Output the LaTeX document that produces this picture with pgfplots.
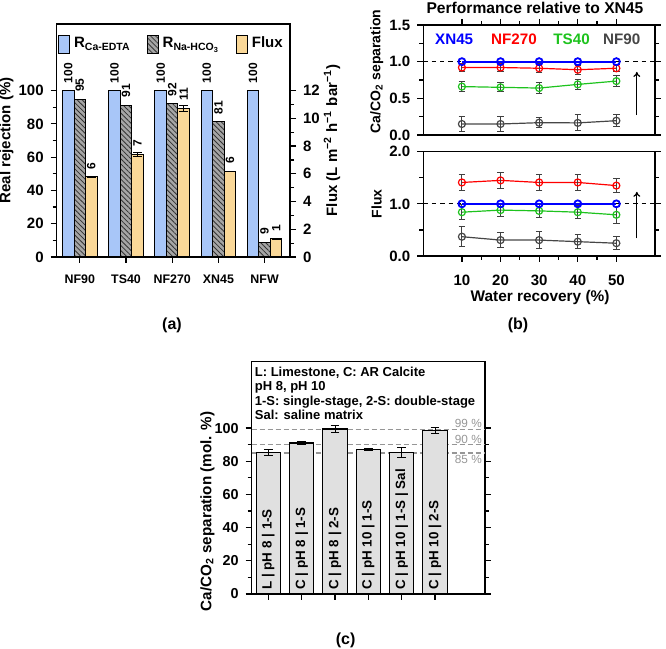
\documentclass[border=0pt]{standalone}
\usepackage{fontspec}
\setmainfont{Liberation Sans}
\usepackage{pgfplots}
\usepackage{pgfplotstable}
\pgfplotsset{compat=1.18}
\usetikzlibrary{patterns.meta,arrows.meta}

\definecolor{cblue}{RGB}{168,198,248}
\definecolor{cyel}{RGB}{250,216,152}
\definecolor{chatch}{RGB}{165,165,165}
\definecolor{cgreen}{RGB}{30,195,30}
\definecolor{cgray}{RGB}{70,70,70}
\definecolor{dgray}{RGB}{150,150,150}

\tikzset{barlab/.style={rotate=90, anchor=west, inner sep=0pt, font=\bfseries\fontsize{6.7}{7}\selectfont}}
\pgfplotsset{
  myax/.style={
    scale only axis,
    /pgf/number format/assume math mode=true,
    tick align=outside,
    axis line style={line width=0.75pt},
    every tick/.style={black, line width=0.6pt},
    major tick length=3pt, minor tick length=2pt,
    tick label style={font=\bfseries\fontsize{7.5}{8}\selectfont},
    label style={font=\bfseries\fontsize{7.5}{8}\selectfont},
  },
  errb/.style={
    /pgfplots/error bars/y dir=both,
    /pgfplots/error bars/y explicit,
    /pgfplots/error bars/error bar style={black!75, line width=0.5pt},
    /pgfplots/error bars/error mark options={black!75, line width=0.5pt, mark size=1.6pt, rotate=90},
  },
  ser/.style={color=#1, mark=o, mark size=1.75pt, line width=0.6pt, mark options={solid, fill=none}},
  vlab/.style={nodes near coords, point meta=explicit symbolic,
    every node near coord/.append style={rotate=90, anchor=west, font=\bfseries\fontsize{6}{6.5}\selectfont, inner xsep=3.5pt, inner ysep=0pt}},
}

\begin{document}
\begin{tikzpicture}
\path[use as bounding box] (0,0) rectangle (333pt,324.5pt);

% ---------------- Panel (a) left axis
\begin{axis}[myax,
  at={(28.35pt,196pt)}, anchor=south west, width=116.65pt, height=116.5pt,
  xmin=-0.5, xmax=4.55, ymin=0, ymax=140,
  xtick={0,1,2,3,4}, xticklabels={NF90,TS40,NF270,XN45,NFW},
  xtick pos=bottom, ytick pos=left,
  ytick={0,20,40,60,80,100}, minor ytick={10,30,50,70,90},
  xticklabel style={font=\bfseries\fontsize{6.2}{7}\selectfont, yshift=-2.5pt},
  ylabel={Real rejection (\%)},
  ylabel style={at={(axis description cs:-0.215,0.5)}, anchor=center},
  legend columns=3,
  legend style={draw=none, fill=none, at={(0.496,0.914)}, anchor=center,
    font=\bfseries\fontsize{7.5}{8}\selectfont,
    /tikz/every even column/.append style={column sep=6pt}},
  legend image code/.code={\draw[#1] (0pt,-4.5pt) rectangle (5.5pt,4.5pt);},
]
\addlegendimage{fill=cblue, draw=black, line width=0.5pt}
\addlegendentry{R\textsubscript{Ca-EDTA}}
\addlegendimage{fill=chatch, draw=black, line width=0.5pt, postaction={pattern={Lines[angle=-45,distance=1.8pt,line width=0.4pt]}, pattern color=black!80}}
\addlegendentry{R\textsubscript{Na-HCO\textsubscript{3}}}
\addlegendimage{fill=cyel, draw=black, line width=0.5pt}
\addlegendentry{Flux}

% Ca-EDTA rejection (bars at group position - 0.25)
\addplot[ybar, bar width=0.25, bar shift=0, fill=cblue, draw=black, line width=0.5pt, forget plot, vlab]
  table[x=x,y=y,meta=lab] {
x y lab
-0.25 100 100
0.75 100 100
1.75 100 100
2.75 100 100
3.75 100 100
};
% Na-HCO3 rejection (bars at group position)
\addplot[ybar, bar width=0.25, bar shift=0, fill=chatch, draw=black, line width=0.5pt, forget plot,
  postaction={pattern={Lines[angle=-45,distance=1.8pt,line width=0.4pt]}, pattern color=black!80}, vlab]
  table[x=x,y=y,meta=lab] {
x y lab
0 94.8 95
1 91.3 91
2 92.0 92
3 81.3 81
4 9.0 9
};
\end{axis}

% ---------------- Panel (a) right axis (flux)
\begin{axis}[myax,
  at={(28.35pt,196pt)}, anchor=south west, width=116.65pt, height=116.5pt,
  xmin=-0.5, xmax=4.55, ymin=0, ymax=16.8,
  hide x axis, axis line style={draw=none},
  ytick pos=right, yticklabel pos=right,
  ytick={0,2,4,6,8,10,12}, minor ytick={1,3,5,7,9,11},
  ylabel={Flux (L m\textsuperscript{−2} h\textsuperscript{−1} bar\textsuperscript{−1})},
  every axis y label/.style={at={(axis description cs:1.18,0.5)}, rotate=90, anchor=center, font=\bfseries\fontsize{7.5}{8}\selectfont},
]
\addplot[ybar, bar width=0.25, bar shift=0, fill=cyel, draw=black, line width=0.5pt, forget plot, vlab,
  error bars/.cd, y dir=both, y explicit, error bar style={black, line width=0.5pt}, error mark options={black, mark size=2.2pt, rotate=90}]
  table[x=x,y=y,y error=e,meta=lab] {
x y e lab
0.25 5.78 0.04 6
1.25 7.42 0.15 7
2.25 10.72 0.22 11
3.25 6.20 0.00 6
4.25 1.30 0.00 1
};
\end{axis}

% ---------------- Panel (b) top
\begin{axis}[myax,
  at={(211.65pt,257pt)}, anchor=south west, width=115.85pt, height=55pt,
  xmin=0, xmax=60, ymin=0, ymax=1.5, clip=false,
  xtick={10,20,30,40,50}, minor xtick={15,25,35,45}, xtick pos=top, xticklabels={},
  ytick={0,0.5,1,1.5}, minor ytick={0.25,0.75,1.25}, ytick pos=both, yticklabel pos=left,
  yticklabel style={/pgf/number format/.cd, fixed, fixed zerofill, precision=1},
  ylabel={Ca/CO\textsubscript{2} separation},
  ylabel style={at={(axis description cs:-0.201,0.575)}, anchor=center, font=\bfseries\fontsize{7}{8}\selectfont},
  title={Performance relative to XN45},
  every axis title/.style={at={(axis description cs:0.482,1)}, anchor=center, yshift=8.5pt, font=\bfseries\fontsize{7.8}{9}\selectfont},
]
\addplot[black, dash pattern=on 2.2pt off 2pt, line width=0.6pt, forget plot] coordinates {(0,1) (60,1)};
\addplot[ser=cgray, errb] table[x=x,y=y,y error=e] {
x y e
10 0.150 0.10
20 0.150 0.10
30 0.168 0.07
40 0.165 0.11
50 0.195 0.08
};
\addplot[ser=cgreen, errb] table[x=x,y=y,y error=e] {
x y e
10 0.660 0.065
20 0.650 0.060
30 0.640 0.080
40 0.690 0.070
50 0.735 0.075
};
\addplot[ser=red, errb] table[x=x,y=y,y error=e] {
x y e
10 0.920 0.06
20 0.920 0.06
30 0.910 0.06
40 0.890 0.06
50 0.910 0.05
};
\addplot[ser=blue, line width=0.9pt] table[x=x,y=y] {
x y
10 1
20 1
30 1
40 1
50 1
};
\node[text=blue, font=\bfseries\fontsize{7.6}{8}\selectfont] at (axis cs:8,1.30) {XN45};
\node[text=red, font=\bfseries\fontsize{7.6}{8}\selectfont] at (axis cs:23.5,1.30) {NF270};
\node[text=cgreen, font=\bfseries\fontsize{7.6}{8}\selectfont] at (axis cs:38.4,1.30) {TS40};
\node[text=cgray, font=\bfseries\fontsize{7.6}{8}\selectfont] at (axis cs:51.4,1.30) {NF90};
\draw[-{To[length=2.5pt,width=3.5pt]}, line width=0.6pt] (axis cs:55.3,0.27) -- (axis cs:55.3,0.86);
\end{axis}

% ---------------- Panel (b) bottom
\begin{axis}[myax,
  at={(211.65pt,196.5pt)}, anchor=south west, width=115.85pt, height=52.15pt,
  xmin=0, xmax=60, ymin=0, ymax=2, clip=false,
  xtick={10,20,30,40,50}, minor xtick={15,25,35,45}, xtick pos=bottom,
  xticklabel style={yshift=-3pt},
  ytick={0,1,2}, minor ytick={0.5,1.5}, ytick pos=both, yticklabel pos=left,
  yticklabel style={/pgf/number format/.cd, fixed, fixed zerofill, precision=1},
  xlabel={Water recovery (\%)},
  xlabel style={at={(axis description cs:0.504,0)}, anchor=center, yshift=-20.6pt, font=\bfseries\fontsize{7.7}{8}\selectfont},
  ylabel={Flux},
  ylabel style={at={(axis description cs:-0.201,0.5)}, anchor=center, font=\bfseries\fontsize{7}{8}\selectfont},
]
\addplot[black, dash pattern=on 2.2pt off 2pt, line width=0.6pt, forget plot] coordinates {(0,1) (60,1)};
\addplot[ser=cgray, errb] table[x=x,y=y,y error=e] {
x y e
10 0.370 0.19
20 0.305 0.15
30 0.305 0.17
40 0.275 0.14
50 0.245 0.13
};
\addplot[ser=cgreen, errb] table[x=x,y=y,y error=e] {
x y e
10 0.840 0.14
20 0.880 0.12
30 0.865 0.12
40 0.840 0.13
50 0.790 0.16
};
\addplot[ser=red, errb] table[x=x,y=y,y error=e] {
x y e
10 1.41 0.15
20 1.45 0.15
30 1.41 0.15
40 1.41 0.15
50 1.35 0.13
};
\addplot[ser=blue, line width=0.9pt] table[x=x,y=y] {
x y
10 1
20 1
30 1
40 1
50 1
};
\draw[-{To[length=2.5pt,width=3.5pt]}, line width=0.6pt] (axis cs:55.3,0.34) -- (axis cs:55.3,1.23);
\end{axis}

% ---------------- Panel (c)
\begin{axis}[myax,
  at={(125.85pt,27.5pt)}, anchor=south west, width=116.65pt, height=116.15pt,
  xmin=0.5, xmax=7.5, ymin=0, ymax=140, clip=false,
  xtick={1,2,3,4,5,6}, xticklabels={}, xtick pos=bottom,
  ytick={0,20,40,60,80,100}, minor ytick={10,30,50,70,90}, ytick pos=both, yticklabel pos=left,
  tick label style={font=\bfseries\fontsize{7.2}{8}\selectfont},
  ylabel={Ca/CO\textsubscript{2} separation (mol. \%)},
  ylabel style={at={(axis description cs:-0.19,0.355)}, anchor=center, font=\bfseries\fontsize{7.6}{8}\selectfont},
]
\addplot[dgray, dash pattern=on 2.5pt off 1.5pt, line width=0.6pt, forget plot] coordinates {(0.5,99) (7.5,99)};
\addplot[dgray, dash pattern=on 2.5pt off 1.5pt, line width=0.6pt, forget plot] coordinates {(0.5,90) (7.5,90)};
\addplot[dgray, dash pattern=on 2.5pt off 1.5pt, line width=0.6pt, forget plot] coordinates {(0.5,85) (7.5,85)};
\addplot[ybar, bar width=0.73, bar shift=0, fill=black!12, draw=black, line width=0.6pt, forget plot,
  error bars/.cd, y dir=both, y explicit, error bar style={black, line width=0.5pt}, error mark options={black, mark size=2.2pt, rotate=90}]
  table[x=x,y=y,y error=e] {
x y e
1 85.3 1.6
2 91.0 1.0
3 99.4 2.3
4 86.9 0.6
5 85.3 2.8
6 98.4 1.9
};
\node[text=dgray, font=\fontsize{5.9}{6}\selectfont] at (axis cs:7.0,102.6) {99 \%};
\node[text=dgray, font=\fontsize{5.9}{6}\selectfont] at (axis cs:7.0,92.9) {90 \%};
\node[text=dgray, font=\fontsize{5.9}{6}\selectfont] at (axis cs:7.0,80.9) {85 \%};
\node[anchor=north west, inner sep=0pt, align=left, font=\bfseries\fontsize{6.5}{7.15}\selectfont]
  at (axis description cs:0.012,0.978) {L: Limestone, C: AR Calcite\\pH 8, pH 10\\1-S: single-stage, 2-S: double-stage\\Sal: saline matrix};
\node[barlab] at (axis cs:1,2.4) {L | pH 8 | 1-S};
\node[barlab] at (axis cs:2,2.4) {C | pH 8 | 1-S};
\node[barlab] at (axis cs:3,2.4) {C | pH 8 | 2-S};
\node[barlab] at (axis cs:4,2.4) {C | pH 10 | 1-S};
\node[barlab] at (axis cs:5,2.4) {C | pH 10 | 1-S | Sal};
\node[barlab] at (axis cs:6,2.4) {C | pH 10 | 2-S};
\end{axis}

% panel labels
\node[font=\bfseries\fontsize{8}{9}\selectfont] at (86pt,162pt) {(a)};
\node[font=\bfseries\fontsize{8}{9}\selectfont] at (259pt,162pt) {(b)};
\node[font=\bfseries\fontsize{8}{9}\selectfont] at (172.8pt,4.5pt) {(c)};
\end{tikzpicture}
\end{document}
